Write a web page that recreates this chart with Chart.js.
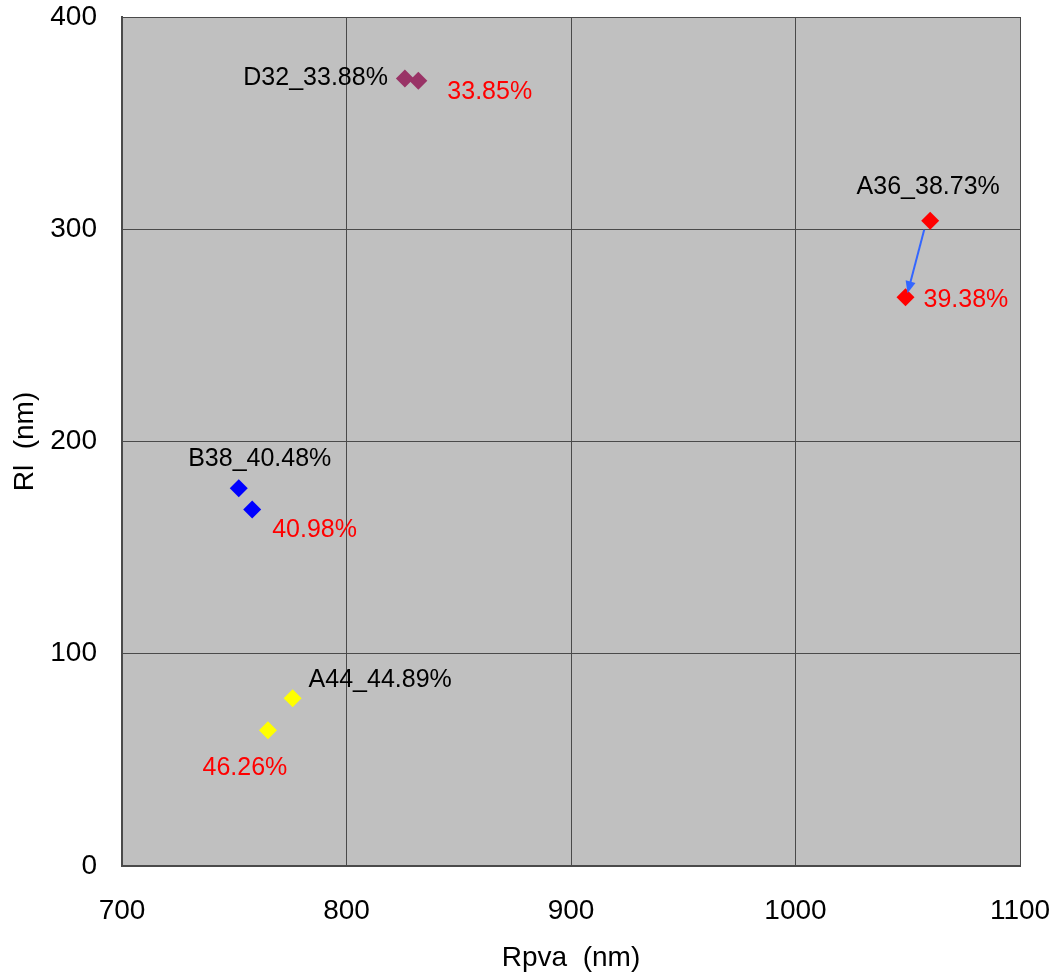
<!DOCTYPE html>
<html lang="en">
<head>
    <meta charset="UTF-8">
    <title>Rpva vs Rl</title>
    <style>
        html, body { margin: 0; padding: 0; background: #fff; }
        #wrap { width: 1058px; height: 978px; }
    </style>
</head>
<body>
    <div id="wrap"><canvas id="myChart"></canvas></div>

    <script src="https://cdn.jsdelivr.net/npm/chart.js"></script>
    <script>
        // data
        const seriesNames = ['D32', 'A36', 'B38', 'A44'];
        const xBefore = [826, 1060, 752, 776];
        const yBefore = [371, 304, 178, 79];
        const xAfter = [832, 1049, 758, 765];
        const yAfter = [370, 268, 168, 64];
        const labelsBefore = ['D32_33.88%', 'A36_38.73%', 'B38_40.48%', 'A44_44.89%'];
        const labelsAfter = ['33.85%', '39.38%', '40.98%', '46.26%'];
        const colors = ['#993366', '#ff0000', '#0000ff', '#ffff00'];

        const FONT = "'Liberation Sans', Arial, sans-serif";

        // label offsets from the marker, [dx, dy, align]
        const beforeOffsets = [[-17, 0, 'right'], [-2, -34, 'center'], [21, -29, 'center'], [16, -18, 'left']];
        const afterOffsets = [[29, 11, 'left'], [18, 3, 'left'], [20, 21, 'left'], [-23, 38, 'center']];

        const plotBackground = {
            id: 'plotBackground',
            beforeDraw(chart) {
                const { ctx, chartArea: a } = chart;
                ctx.save();
                ctx.fillStyle = '#c0c0c0';
                ctx.fillRect(a.left, a.top, a.right - a.left, a.bottom - a.top);
                ctx.restore();
            }
        };

        const pointLabels = {
            id: 'pointLabels',
            afterDatasetsDraw(chart) {
                const ctx = chart.ctx;
                ctx.save();
                ctx.font = '25px ' + FONT;
                ctx.textBaseline = 'middle';
                chart.data.datasets.forEach((ds, i) => {
                    const meta = chart.getDatasetMeta(i);
                    const p0 = meta.data[0], p1 = meta.data[1];
                    let o = beforeOffsets[i];
                    ctx.fillStyle = '#000';
                    ctx.textAlign = o[2];
                    ctx.fillText(labelsBefore[i], p0.x + o[0], p0.y + o[1]);
                    o = afterOffsets[i];
                    ctx.fillStyle = '#ff0000';
                    ctx.textAlign = o[2];
                    ctx.fillText(labelsAfter[i], p1.x + o[0], p1.y + o[1]);
                });

                // arrow on A36 from first to second point
                const m = chart.getDatasetMeta(1);
                const a = m.data[0], b = m.data[1];
                const sx = a.x - 6, sy = a.y + 9;
                const ex = b.x + 2, ey = b.y - 4;
                const ang = Math.atan2(ey - sy, ex - sx);
                ctx.strokeStyle = '#3366ff';
                ctx.fillStyle = '#3366ff';
                ctx.lineWidth = 2;
                ctx.beginPath();
                ctx.moveTo(sx, sy);
                ctx.lineTo(ex - Math.cos(ang) * 8, ey - Math.sin(ang) * 8);
                ctx.stroke();
                ctx.beginPath();
                ctx.moveTo(ex, ey);
                ctx.lineTo(ex - Math.cos(ang - 0.4) * 13, ey - Math.sin(ang - 0.4) * 13);
                ctx.lineTo(ex - Math.cos(ang + 0.4) * 13, ey - Math.sin(ang + 0.4) * 13);
                ctx.closePath();
                ctx.fill();
                ctx.restore();
            }
        };

        document.addEventListener('DOMContentLoaded', function () {
            const datasets = seriesNames.map((name, i) => ({
                label: name,
                data: [
                    { x: xBefore[i], y: yBefore[i] },
                    { x: xAfter[i], y: yAfter[i] }
                ],
                pointStyle: 'rectRot',
                pointRadius: 9,
                pointHoverRadius: 9,
                backgroundColor: colors[i],
                borderColor: colors[i],
                borderWidth: 0,
                showLine: false
            }));

            const ctx = document.getElementById('myChart').getContext('2d');
            new Chart(ctx, {
                type: 'scatter',
                data: { datasets: datasets },
                options: {
                    responsive: true,
                    maintainAspectRatio: false,
                    animation: false,
                    layout: { padding: { top: 17, right: 38, left: 0, bottom: 0 } },
                    plugins: {
                        legend: { display: false },
                        tooltip: { enabled: false }
                    },
                    scales: {
                        x: {
                            type: 'linear',
                            min: 700,
                            max: 1100,
                            ticks: {
                                stepSize: 100,
                                padding: 28,
                                color: '#000',
                                font: { family: FONT, size: 28 },
                                callback: v => String(v)
                            },
                            grid: { color: '#4a4a4a', lineWidth: 1, drawTicks: false },
                            border: { color: '#4a4a4a', width: 2 },
                            title: {
                                display: true,
                                text: 'Rpva  (nm)',
                                color: '#000',
                                font: { family: FONT, size: 28 },
                                padding: { top: 0, bottom: 3 }
                            },
                            afterFit(scale) {
                                scale.height = 112;
                                scale.paddingLeft = 0;
                                scale.paddingRight = 0;
                            }
                        },
                        y: {
                            type: 'linear',
                            min: 0,
                            max: 400,
                            ticks: {
                                stepSize: 100,
                                padding: 25,
                                color: '#000',
                                font: { family: FONT, size: 28 }
                            },
                            grid: { color: '#4a4a4a', lineWidth: 1, drawTicks: false },
                            border: { color: '#4a4a4a', width: 2 },
                            title: {
                                display: true,
                                text: 'Rl  (nm)',
                                color: '#000',
                                font: { family: FONT, size: 28 },
                                padding: { top: 8, bottom: 0 }
                            },
                            afterFit(scale) {
                                scale.width = 122;
                                scale.paddingTop = 0;
                                scale.paddingBottom = 0;
                            }
                        }
                    }
                },
                plugins: [plotBackground, pointLabels]
            });
        });
    </script>
</body>
</html>
